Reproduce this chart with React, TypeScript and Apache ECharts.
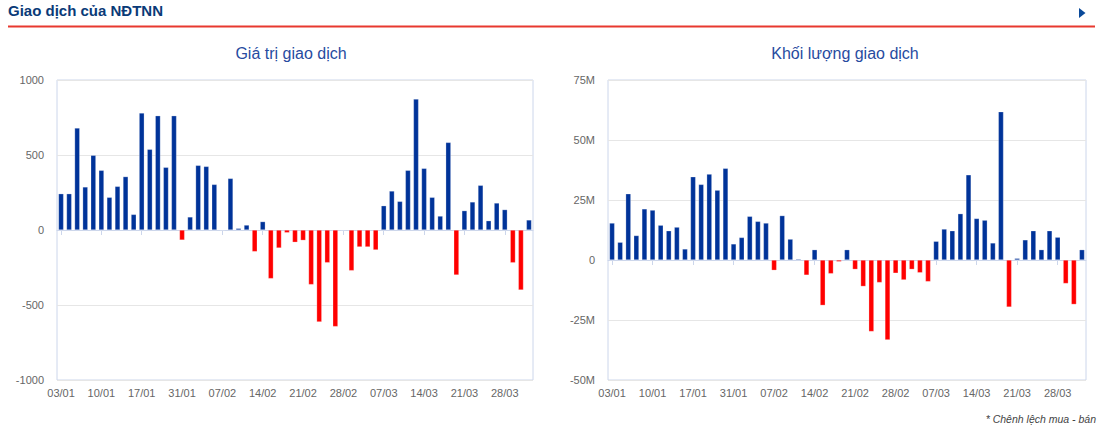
import React, { useEffect, useRef } from "react";
import * as echarts from "echarts";

const categories = [
  "03/01", "04/01", "05/01", "06/01", "09/01", "10/01", "11/01", "12/01", "13/01", "16/01",
  "17/01", "18/01", "19/01", "27/01", "30/01", "31/01", "01/02", "02/02", "03/02", "06/02",
  "07/02", "08/02", "09/02", "10/02", "13/02", "14/02", "15/02", "16/02", "17/02", "20/02",
  "21/02", "22/02", "23/02", "24/02", "27/02", "28/02", "01/03", "02/03", "03/03", "06/03",
  "07/03", "08/03", "09/03", "10/03", "13/03", "14/03", "15/03", "16/03", "17/03", "20/03",
  "21/03", "22/03", "23/03", "24/03", "27/03", "28/03", "29/03", "30/03", "31/03",
];

// Giá trị giao dịch (tỷ đồng)
const valueSeries = [
  242, 242, 680, 287, 498, 398, 218, 291, 356, 104,
  780, 538, 762, 418, 762, -67, 87, 431, 424, 304,
  2, 344, 11, 33, -144, 56, -324, -120, -18, -82,
  -69, -364, -613, -218, -644, 3, -271, -113, -113, -133,
  162, 260, 191, 398, 873, 411, 218, 93, 584, -300,
  129, 187, 298, 62, 180, 136, -218, -400, 67,
];

// Khối lượng giao dịch (triệu cổ phiếu)
const volumeSeries = [
  15.4, 7.4, 27.6, 10.2, 21.3, 20.8, 14.5, 12.2, 13.7, 4.6,
  34.7, 31.5, 35.8, 29.1, 38.2, 6.7, 9.4, 18.2, 16.1, 15.4,
  -4.3, 18.5, 8.7, 0.4, -6.3, 4.3, -18.9, -5.7, -0.7, 4.3,
  -3.9, -11.0, -29.8, -9.4, -33.3, -5.5, -8.3, -3.9, -5.3, -9.0,
  7.8, 12.9, 12.2, 19.3, 35.5, 17.3, 16.6, 7.1, 61.8, -19.6,
  0.7, 8.4, 12.2, 4.3, 12.2, 9.5, -9.8, -18.5, 4.3,
];

const valueTicks = { min: -1000, max: 1000, interval: 500 };
const volumeTicks = { min: -50, max: 75, interval: 25 };

const BLUE = "#003399";
const RED = "#ff0000";
const FONT = "'Liberation Sans', Arial, sans-serif";

export default function App() {
  const ref = useRef<HTMLDivElement>(null);

  useEffect(() => {
    if (!ref.current) return;
    const chart = echarts.init(ref.current, undefined, { renderer: "svg" });

    const toData = (arr: number[]) =>
      arr.map((v) => ({ value: v, itemStyle: { color: v >= 0 ? BLUE : RED } }));

    const xAxisCommon = (gridIndex: number) => ({
      type: "category" as const,
      gridIndex,
      data: categories,
      boundaryGap: true,
      axisLine: { show: true, lineStyle: { color: "#ccd6eb" } },
      axisTick: { show: true, interval: 4, alignWithLabel: true, length: 5, lineStyle: { color: "#ccd6eb" } },
      axisLabel: { interval: 4, color: "#666", fontSize: 11, fontFamily: FONT, margin: 7 },
      splitLine: { show: false },
    });

    const yAxisCommon = (gridIndex: number, t: { min: number; max: number; interval: number }, fmt: (v: number) => string) => ({
      type: "value" as const,
      gridIndex,
      min: t.min,
      max: t.max,
      interval: t.interval,
      axisLine: { show: false },
      axisTick: { show: false },
      axisLabel: { color: "#666", fontSize: 11, fontFamily: FONT, margin: 13, formatter: fmt },
      splitLine: { show: true, lineStyle: { color: "#e6e6e6" } },
    });

    chart.setOption({
      animation: false,
      textStyle: { fontFamily: FONT },
      title: [
        {
          text: "Giá trị giao dịch",
          left: 286,
          top: 40,
          textAlign: "center",
          textStyle: { color: "#274b9f", fontSize: 16, fontWeight: "normal", fontFamily: FONT },
        },
        {
          text: "Khối lượng giao dịch",
          left: 840,
          top: 40,
          textAlign: "center",
          textStyle: { color: "#274b9f", fontSize: 16, fontWeight: "normal", fontFamily: FONT },
        },
      ],
      grid: [
        { left: 57, top: 80, width: 476, height: 300, show: true, borderColor: "#ccd6eb", borderWidth: 1, backgroundColor: "transparent" },
        { left: 608, top: 80, width: 478, height: 300, show: true, borderColor: "#ccd6eb", borderWidth: 1, backgroundColor: "transparent" },
      ],
      xAxis: [xAxisCommon(0), xAxisCommon(1)],
      yAxis: [
        yAxisCommon(0, valueTicks, (v: number) => String(v)),
        yAxisCommon(1, volumeTicks, (v: number) => (v === 0 ? "0" : v + "M")),
      ],
      series: [
        {
          type: "bar",
          xAxisIndex: 0,
          yAxisIndex: 0,
          data: toData(valueSeries),
          barWidth: "64%",
          itemStyle: { borderColor: "rgba(255,255,255,0.5)", borderWidth: 0.5 },
        },
        {
          type: "bar",
          xAxisIndex: 1,
          yAxisIndex: 1,
          data: toData(volumeSeries),
          barWidth: "64%",
          itemStyle: { borderColor: "rgba(255,255,255,0.5)", borderWidth: 0.5 },
        },
      ],
      graphic: [
        {
          type: "text",
          left: 8,
          top: 3,
          style: { text: "Giao dịch của NĐTNN", fill: "#0a3a78", font: `bold 15px ${FONT}` },
        },
        {
          type: "line",
          shape: { x1: 8, y1: 26.5, x2: 1095, y2: 26.5 },
          style: { stroke: "#e8392f", lineWidth: 2 },
        },
        {
          type: "polygon",
          shape: { points: [[1079, 8], [1085.5, 13], [1079, 18]] },
          style: { fill: "#0a4a9a" },
        },
        {
          type: "text",
          right: 8,
          top: 413,
          style: { text: "* Chênh lệch mua - bán", fill: "#444", font: `italic 10.5px ${FONT}` },
        },
      ],
    });

    return () => chart.dispose();
  }, []);

  return (
    <div
      ref={ref}
      style={{ position: "absolute", left: 0, top: 0, width: 1104, height: 428, background: "#fff" }}
    />
  );
}
